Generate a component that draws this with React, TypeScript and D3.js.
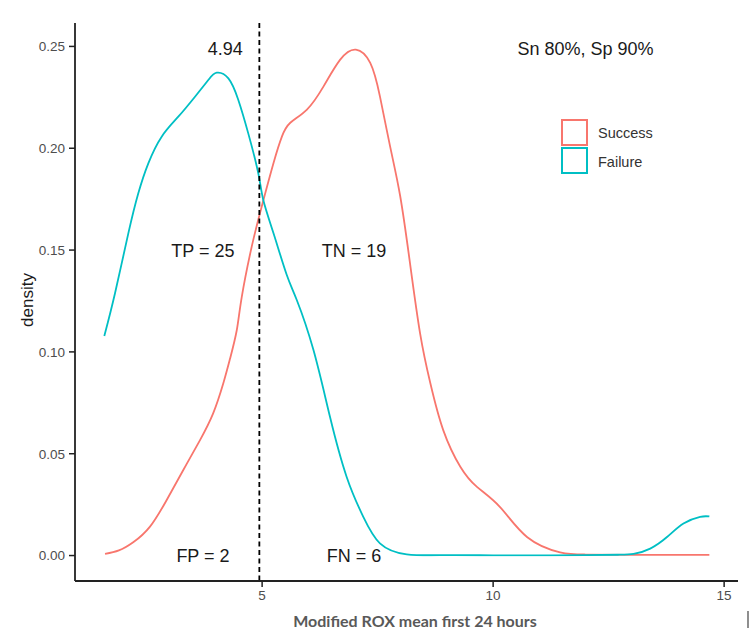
import React from "react";
import * as d3 from "d3";

const failureX = [1.584, 1.816, 2.104, 2.32, 2.537, 2.826, 3.186, 3.547, 3.835, 4.017, 4.27, 4.485, 4.7, 4.917, 5.025, 5.25, 5.53, 5.75, 6.11, 6.47, 6.83, 7.19, 7.55, 8.13, 9, 10, 11, 12, 12.7, 13.04, 13.4, 13.77, 14.12, 14.48, 14.68];
const failureY = [0.1078, 0.1288, 0.1582, 0.1779, 0.1926, 0.2057, 0.2155, 0.2253, 0.2335, 0.2371, 0.2343, 0.2237, 0.2073, 0.1877, 0.1746, 0.158, 0.138, 0.1255, 0.101, 0.068, 0.0386, 0.019, 0.006, 0.0006, 0.0002, 0.0001, 0.0001, 0.0002, 0.0004, 0.0008, 0.0034, 0.0092, 0.0157, 0.019, 0.0192];

const successX = [1.6, 1.9, 2.21, 2.573, 2.935, 3.294, 3.656, 3.94, 4.16, 4.305, 4.45, 4.558, 4.775, 4.99, 5.25, 5.43, 5.61, 5.97, 6.33, 6.69, 7.03, 7.34, 7.55, 7.77, 7.99, 8.2, 8.42, 8.64, 8.92, 9.29, 9.65, 10.15, 10.74, 11.45, 12, 13, 14.68];
const successY = [0.0008, 0.0025, 0.0065, 0.0142, 0.0273, 0.042, 0.0567, 0.0698, 0.0846, 0.0966, 0.1105, 0.1268, 0.1517, 0.1713, 0.193, 0.2058, 0.2125, 0.219, 0.2304, 0.2435, 0.2484, 0.2419, 0.2255, 0.2009, 0.1763, 0.1437, 0.109, 0.0847, 0.0616, 0.0436, 0.0337, 0.0238, 0.009, 0.0016, 0.0005, 0.0003, 0.0003];

const xTicks = [5, 10, 15];
const yTicks = [0, 0.05, 0.1, 0.15, 0.2, 0.25];
const cutoff = 4.94;

const annotations = [
  { label: "4.94", x: 4.2, y: 0.249 },
  { label: "Sn 80%, Sp 90%", x: 12.0, y: 0.249 },
  { label: "TP = 25", x: 3.72, y: 0.15 },
  { label: "TN = 19", x: 6.99, y: 0.15 },
  { label: "FP = 2", x: 3.72, y: 0.0 },
  { label: "FN = 6", x: 6.99, y: 0.0 },
];

const seriesNames = ["Success", "Failure"];
const seriesColors = ["#F8766D", "#00BFC4"];

export default function App() {
  const left = 75, right = 738, top = 23, bottom = 581;
  const x = d3.scaleLinear().domain([0.95, 15.3]).range([left, right]);
  const y = d3.scaleLinear().domain([-0.0125, 0.2615]).range([bottom, top]);
  const line = d3
    .line<[number, number]>()
    .x((d) => x(d[0]))
    .y((d) => y(d[1]))
    .curve(d3.curveNatural);
  const success: [number, number][] = successX.map((v, i) => [v, successY[i]]);
  const failure: [number, number][] = failureX.map((v, i) => [v, failureY[i]]);
  const font = "'Liberation Sans', Arial, sans-serif";

  return (
    <svg
      width={750}
      height={641}
      style={{ position: "absolute", left: 0, top: 0, background: "#fff" }}
      fontFamily={font}
    >
      <defs>
        <clipPath id="above0">
          <rect x={0} y={0} width={750} height={y(0) + 0.9} />
        </clipPath>
      </defs>
      <rect width={750} height={641} fill="#fff" />
      <g clipPath="url(#above0)">
        <path d={line(success) || ""} fill="none" stroke={seriesColors[0]} strokeWidth={1.8} />
        <path d={line(failure) || ""} fill="none" stroke={seriesColors[1]} strokeWidth={1.8} />
      </g>
      <line
        x1={x(cutoff)}
        x2={x(cutoff)}
        y1={top}
        y2={bottom}
        stroke="#000"
        strokeWidth={1.8}
        strokeDasharray="5,3.5"
      />
      {annotations.map((a) => (
        <text
          key={a.label}
          x={x(a.x)}
          y={y(a.y)}
          dy="0.36em"
          textAnchor="middle"
          fontSize={18}
          fill="#1a1a1a"
        >
          {a.label}
        </text>
      ))}
      <line x1={left} x2={left} y1={top} y2={bottom} stroke="#222" strokeWidth={1.8} />
      <line x1={left} x2={right} y1={bottom} y2={bottom} stroke="#222" strokeWidth={1.8} />
      {yTicks.map((t) => (
        <g key={"y" + t}>
          <line x1={left - 6} x2={left} y1={y(t)} y2={y(t)} stroke="#222" strokeWidth={1.5} />
          <text x={left - 10} y={y(t)} dy="0.36em" textAnchor="end" fontSize={13.5} fill="#4D4D4D">
            {t.toFixed(2)}
          </text>
        </g>
      ))}
      {xTicks.map((t) => (
        <g key={"x" + t}>
          <line x1={x(t)} x2={x(t)} y1={bottom} y2={bottom + 6} stroke="#222" strokeWidth={1.5} />
          <text x={x(t)} y={600} textAnchor="middle" fontSize={13.5} fill="#4D4D4D">
            {t}
          </text>
        </g>
      ))}
      <text
        transform="translate(33,300) rotate(-90)"
        textAnchor="middle"
        fontSize={17}
        fill="#1a1a1a"
      >
        density
      </text>
      <text
        x={415}
        y={627}
        textAnchor="middle"
        fontSize={16}
        fontWeight="bold"
        fontFamily="Lato, 'Open Sans', sans-serif"
        fill="#595959"
      >
        Modified ROX mean first 24 hours
      </text>
      <line x1={748} x2={748} y1={611} y2={628} stroke="#444" strokeWidth={1.2} />
      {seriesNames.map((n, i) => (
        <g key={n}>
          <rect
            x={562}
            y={120 + i * 28}
            width={25}
            height={25}
            fill="#fff"
            stroke={seriesColors[i]}
            strokeWidth={2}
          />
          <text x={598} y={138 + i * 28.5} fontSize={14.5} fill="#333">
            {n}
          </text>
        </g>
      ))}
    </svg>
  );
}
